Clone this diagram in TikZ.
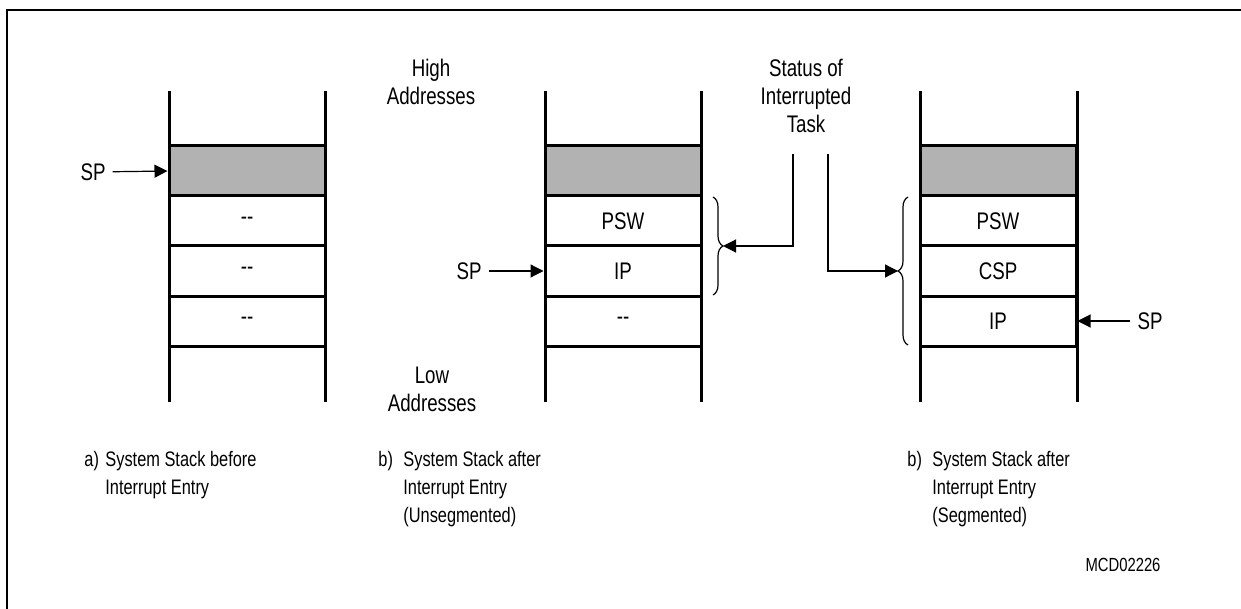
\documentclass[tikz,border=0pt]{standalone}
\usepackage{fontspec}
\setmainfont{Liberation Sans}[FakeStretch=0.78]
\usetikzlibrary{arrows.meta,decorations.pathreplacing}

\begin{document}
\begin{tikzpicture}[
        x=0.5pt, y=-0.5pt,
        every node/.style={font=\fontsize{12}{14}\selectfont},
        stack cell/.style={
            draw,
            line width=1.5pt,
            minimum width=78pt,
            minimum height=25pt,
            inner sep=0pt,
            outer sep=0pt,
            anchor=north west
        },
        top cell/.style={stack cell, fill=gray!60},
        rail/.style={line width=1.5pt},
        pointer/.style={-{Triangle[length=6.5pt,width=6.5pt]}, line width=0.6pt},
        status brace/.style={decorate, decoration={brace, amplitude=5pt}, line width=0.6pt},
        caption text/.style={
            align=left,
            anchor=north west,
            inner sep=0pt,
            font=\fontsize{10.5}{14}\selectfont
        }
    ]
        \useasboundingbox (0,0) rectangle (1241,609);
        \draw[line width=1pt] (7,10) rectangle (1300,700);

        % a) before interrupt entry
        \draw[rail] (169,91) -- (169,402);
        \draw[rail] (325,91) -- (325,402);
        \node[top cell] (a0) at (169,146) {};
        \node[stack cell] (a1) at (169,196) {{-}{-}};
        \node[stack cell] (a2) at (169,246) {{-}{-}};
        \node[stack cell] (a3) at (169,296) {{-}{-}};
        \node (spa) at (93,172) {SP};
        \draw[pointer, shorten >=0.75pt] (spa) -- (a0.west);

        % b) after entry, unsegmented
        \draw[rail] (545,91) -- (545,402);
        \draw[rail] (701,91) -- (701,402);
        \node[top cell] (b0) at (545,146) {};
        \node[stack cell] (b1) at (545,196) {PSW};
        \node[stack cell] (b2) at (545,246) {IP};
        \node[stack cell] (b3) at (545,296) {{-}{-}};
        \node (spb) at (469,271) {SP};
        \draw[pointer, shorten >=0.75pt] (spb) -- (b2.west);
        \node[align=center] (high) at (431,82) {High\\Addresses};
        \node[align=center] (low) at (432,389) {Low\\Addresses};

        % b) after entry, segmented
        \draw[rail] (920,91) -- (920,402);
        \draw[rail] (1077,91) -- (1077,402);
        \node[top cell] (c0) at (920,146) {};
        \node[stack cell] (c1) at (920,196) {PSW};
        \node[stack cell] (c2) at (920,246) {CSP};
        \node[stack cell] (c3) at (920,296) {IP};
        \node (spc) at (1150,321) {SP};
        \draw[pointer, shorten >=0.75pt] (spc) -- (c3.east);

        % status of interrupted task
        \node[align=center] (status) at (806,96) {Status of\\Interrupted\\Task};
        \draw[status brace] (713,197) -- (713,295);
        \draw[status brace] (908,345) -- (908,197);
        \coordinate (tipb) at (723,246);
        \coordinate (tipc) at (898,271);
        \coordinate (statusl) at (793,154);
        \coordinate (statusr) at (828,154);
        \draw[pointer] (statusl) |- (tipb);
        \draw[pointer] (statusr) |- (tipc);

        % captions
        \node[caption text] (capa label) at (84,451) {a)};
        \node[caption text] (capa) at (105,451) {System Stack before\\Interrupt Entry};
        \node[caption text] (capb label) at (378,451) {b)};
        \node[caption text] (capb) at (403,451) {System Stack after\\Interrupt Entry\\(Unsegmented)};
        \node[caption text] (capc label) at (907,451) {b)};
        \node[caption text] (capc) at (932,451) {System Stack after\\Interrupt Entry\\(Segmented)};
        \node[font=\fontsize{9.5}{11}\selectfont] (code) at (1123,565) {MCD02226};
    \end{tikzpicture}
\end{document}
